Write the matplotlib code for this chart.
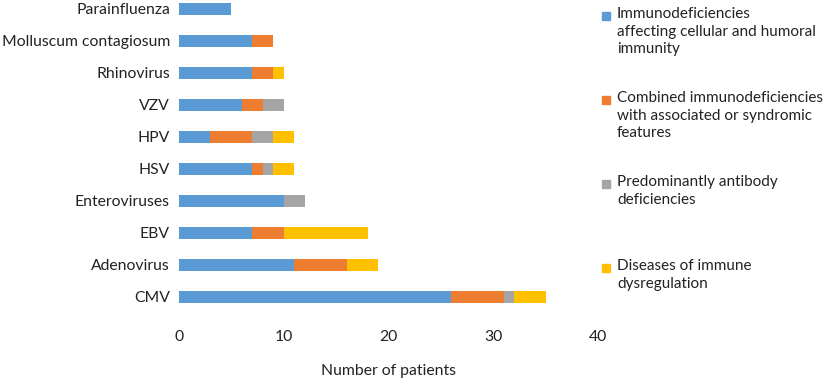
import matplotlib.pyplot as plt
from matplotlib.patches import Rectangle

# ___________ DATA ___________
viruses = ["CMV", "Adenovirus", "EBV", "Enteroviruses", "HSV", "HPV", "VZV",
           "Rhinovirus", "Molluscum contagiosum", "Parainfluenza"]
cellular_humoral = [26, 11, 7, 10, 7, 3, 6, 7, 7, 5]
combined_syndromic = [5, 5, 3, 0, 1, 4, 2, 2, 2, 0]
antibody = [1, 0, 0, 2, 1, 2, 2, 0, 0, 0]
dysregulation = [3, 3, 8, 0, 2, 2, 0, 1, 0, 0]

series_names = [
    "Immunodeficiencies\naffecting cellular and humoral\nimmunity",
    "Combined immunodeficiencies\nwith associated or syndromic\nfeatures",
    "Predominantly antibody\ndeficiencies",
    "Diseases of immune\ndysregulation",
]
colors = ["#5B9BD5", "#ED7D31", "#A5A5A5", "#FFC000"]
xticks = [0, 10, 20, 30, 40]

# ___________ PLOT ___________
plt.rcParams["font.family"] = ["Lato", "DejaVu Sans"]
fs = 11.3
W, H = 829, 383
fig = plt.figure(figsize=(W / 100, H / 100), dpi=100)
ax = fig.add_axes([179 / W, (H - 313) / H, (598 - 179) / W, 313 / H])

pos = range(len(viruses))
left = [0] * len(viruses)
for vals, c in zip([cellular_humoral, combined_syndromic, antibody, dysregulation], colors):
    ax.barh(pos, vals, left=left, height=0.35, color=c)
    left = [l + v for l, v in zip(left, vals)]

ax.set_xlim(0, 40)
ax.set_ylim(-0.5, 9.28)
ax.set_xticks(xticks)
ax.set_yticks(list(pos))
ax.set_yticklabels(viruses)
for s in ax.spines.values():
    s.set_visible(False)
ax.tick_params(axis="y", length=0, pad=6.5, labelsize=fs, labelcolor="#222222")
ax.tick_params(axis="x", length=0, pad=12, labelsize=fs, labelcolor="#222222")
ax.set_xlabel("Number of patients", fontsize=fs, color="#222222", labelpad=15)

# legend drawn by hand to match the tall spacing
legend_tops = [16, 100, 184, 268]
for name, c, top in zip(series_names, colors, legend_tops):
    fig.patches.append(Rectangle(((602) / W, 1 - (top + 4) / H), 8 / W, 8 / H,
                                 transform=fig.transFigure, color=c))
    fig.text(617 / W, 1 - (top - 9) / H, name, fontsize=11, color="#222222",
             va="top", ha="left", linespacing=1.32)

fig.savefig("out.png", dpi=100)
